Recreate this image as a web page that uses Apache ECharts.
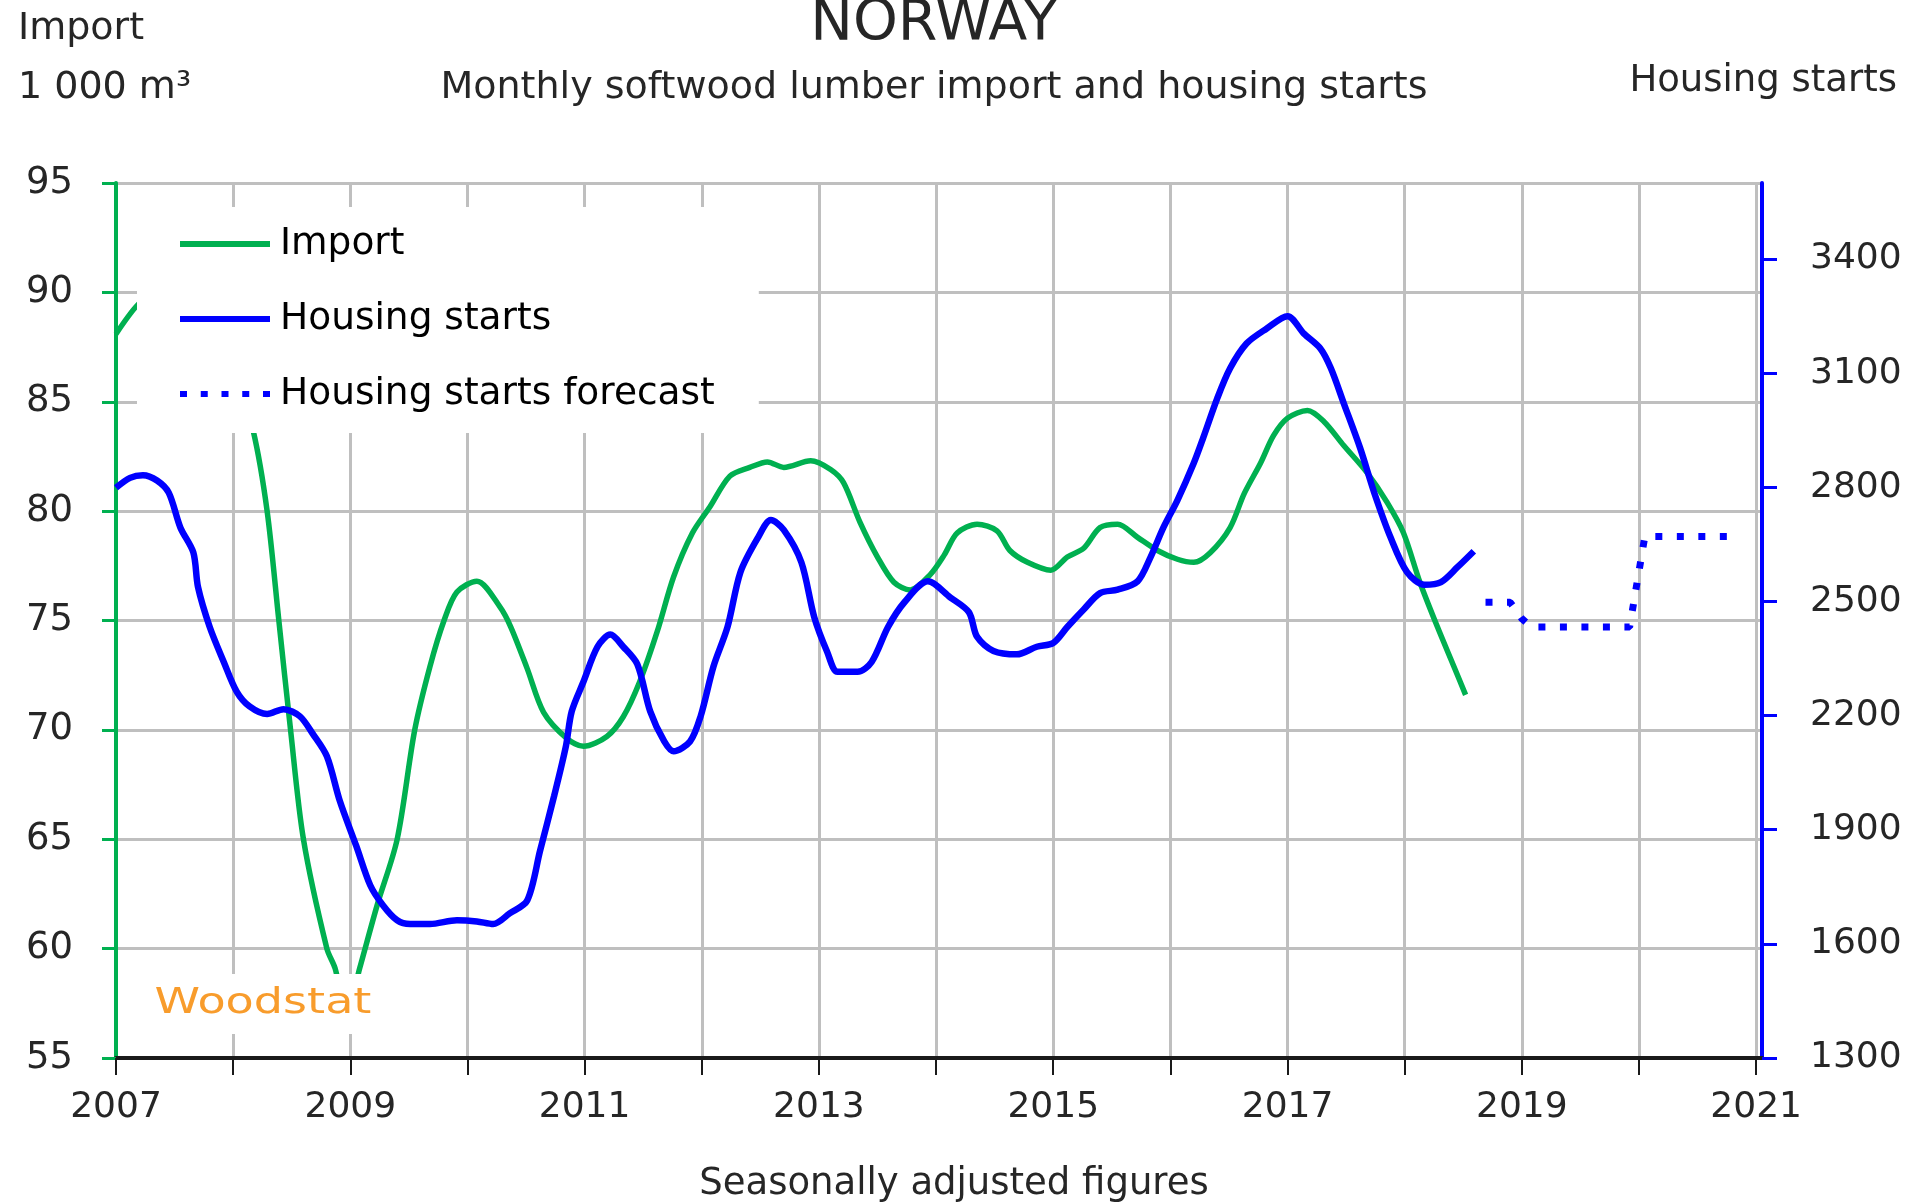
<!DOCTYPE html>
<html>
<head>
<meta charset="utf-8">
<title>Norway - softwood lumber import and housing starts</title>
<script src="https://cdn.jsdelivr.net/npm/echarts@6/dist/echarts.min.js"></script>
<style>
  html, body { margin: 0; padding: 0; background: #fff; }
  #chart { width: 1909px; height: 1202px; }
</style>
</head>
<body>
<div id="chart"></div>
<script>
// Import, 1 000 m3 (left axis)
const importYears = [
  2007.00, 2007.18, 2007.40, 2007.65, 2007.90, 2008.17, 2008.29, 2008.39, 2008.49, 2008.60,
  2008.80, 2008.87, 2008.97, 2009.08, 2009.23, 2009.40, 2009.55, 2009.68, 2009.80, 2009.91,
  2010.08, 2010.28, 2010.37, 2010.51, 2010.65, 2010.85, 2010.99, 2011.19, 2011.33, 2011.47,
  2011.62, 2011.76, 2011.92, 2012.07, 2012.24, 2012.41, 2012.56, 2012.70, 2012.93, 2013.10,
  2013.21, 2013.35, 2013.50, 2013.64, 2013.78, 2013.95, 2014.07, 2014.18, 2014.35, 2014.52,
  2014.63, 2014.78, 2014.98, 2015.12, 2015.26, 2015.40, 2015.55, 2015.72, 2015.89, 2016.06,
  2016.20, 2016.34, 2016.51, 2016.63, 2016.77, 2016.88, 2017.00, 2017.17, 2017.31, 2017.48,
  2017.68, 2017.85, 2017.99, 2018.13, 2018.28, 2018.42, 2018.52
];
const importValues = [
  88.1, 89.4, 90.4, 91.0, 89.0, 83.7, 80.0, 75.0, 70.0, 65.0,
  60.0, 59.1, 57.0, 59.1, 62.0, 65.0, 70.0, 72.9, 75.0, 76.3,
  76.8, 75.6, 74.7, 72.8, 70.8, 69.6, 69.25, 69.7, 70.6, 72.2,
  74.5, 77.0, 79.0, 80.2, 81.6, 82.0, 82.25, 82.0, 82.3, 81.9,
  81.3, 79.5, 77.9, 76.75, 76.4, 77.1, 78.0, 79.0, 79.4, 79.1,
  78.2, 77.66, 77.3, 77.9, 78.3, 79.25, 79.4, 78.8, 78.2, 77.8,
  77.66, 78.1, 79.25, 80.8, 82.2, 83.45, 84.25, 84.6, 84.1, 83.0,
  81.75, 80.4, 79.0, 76.75, 74.7, 72.9, 71.6
];

// Housing starts (right axis)
const startsYears = [
  2007.00, 2007.12, 2007.23, 2007.35, 2007.45, 2007.55, 2007.66, 2007.70, 2007.80, 2007.92,
  2008.03, 2008.14, 2008.29, 2008.43, 2008.57, 2008.68, 2008.80, 2008.91, 2009.05, 2009.17,
  2009.28, 2009.40, 2009.51, 2009.68, 2009.91, 2010.08, 2010.22, 2010.36, 2010.51, 2010.62,
  2010.74, 2010.84, 2010.89, 2010.99, 2011.11, 2011.22, 2011.33, 2011.45, 2011.56, 2011.68,
  2011.76, 2011.90, 2011.99, 2012.10, 2012.22, 2012.33, 2012.48, 2012.59, 2012.70, 2012.85,
  2012.96, 2013.07, 2013.16, 2013.33, 2013.45, 2013.59, 2013.73, 2013.93, 2014.12, 2014.28,
  2014.35, 2014.49, 2014.69, 2014.86, 2015.00, 2015.12, 2015.26, 2015.40, 2015.55, 2015.72,
  2015.83, 2015.94, 2016.06, 2016.20, 2016.28, 2016.40, 2016.51, 2016.65, 2016.82, 2017.00,
  2017.14, 2017.28, 2017.37, 2017.48, 2017.62, 2017.74, 2017.88, 2018.02, 2018.17, 2018.31,
  2018.45, 2018.59
];
const startsValues = [
  2799, 2825, 2832, 2818, 2786, 2694, 2629, 2538, 2433, 2341,
  2263, 2224, 2204, 2217, 2198, 2152, 2093, 1976, 1858, 1754,
  1701, 1662, 1652, 1652, 1662, 1659, 1652, 1680, 1714, 1845,
  1989, 2119, 2211, 2289, 2381, 2413, 2381, 2335, 2211, 2132,
  2106, 2132, 2198, 2329, 2433, 2577, 2668, 2714, 2688, 2603,
  2459, 2368, 2315, 2315, 2341, 2433, 2498, 2553, 2511, 2472,
  2407, 2370, 2361, 2381, 2391, 2433, 2479, 2522, 2531, 2553,
  2616, 2694, 2766, 2864, 2930, 3034, 3113, 3178, 3217, 3250,
  3204, 3165, 3113, 3021, 2903, 2786, 2668, 2577, 2544, 2551,
  2590, 2632
];

// Housing starts forecast
const forecastYears = [2018.69, 2018.90, 2019.00, 2019.08, 2019.92, 2020.05, 2020.85];
const forecastValues = [2498, 2498, 2455, 2433, 2433, 2671, 2671];

const yearTicks = [2007, 2008, 2009, 2010, 2011, 2012, 2013, 2014, 2015, 2016, 2017, 2018, 2019, 2020, 2021];
const yearLabels = [2007, 2009, 2011, 2013, 2015, 2017, 2019, 2021];
const startsTicks = [1300, 1600, 1900, 2200, 2500, 2800, 3100, 3400];

const FONT = 'DejaVu Sans';
const GREEN = '#00b050';
const BLUE = '#0000ff';
const GRID = '#bfbfbf';
const TEXT = '#262626';

// legend icons: a short bar and a row of square dots
const BAR_ICON = 'rect';
const DOT_ICON = 'path://M0,0h7v6h-7zM20.75,0h7v6h-7zM41.5,0h7v6h-7zM62.25,0h7v6h-7zM83,0h7v6h-7z';

const pairs = (xs, ys) => xs.map((x, i) => [x, ys[i]]);

const chart = echarts.init(document.getElementById('chart'));

const txt = (text, x, y, size, align) => ({
  type: 'text',
  x: x, y: y,
  z: 50,
  style: {
    text: text,
    font: size + 'px "' + FONT + '"',
    fill: TEXT,
    align: align, textAlign: align,
    verticalAlign: 'middle', textVerticalAlign: 'middle'
  }
});

const option = {
  animation: false,
  backgroundColor: '#fff',
  grid: { left: 116, right: 147, top: 183, bottom: 144, containLabel: false },
  legend: {
    orient: 'vertical',
    left: 137,
    top: 207,
    padding: [18, 44, 20, 43],
    itemWidth: 90,
    itemHeight: 6,
    itemGap: 37,
    backgroundColor: '#fff',
    z: 10,
    textStyle: { fontFamily: FONT, fontSize: 37.5, color: '#000', lineHeight: 37, padding: [0, 0, 0, 5] },
    data: [
      { name: 'Import', icon: BAR_ICON },
      { name: 'Housing starts', icon: BAR_ICON },
      { name: 'Housing starts forecast', icon: DOT_ICON }
    ]
  },
  xAxis: {
    type: 'value',
    min: 2007,
    max: 2021.05,
    interval: 1,
    axisLine: { onZero: false, lineStyle: { color: '#1a1a1a', width: 4 } },
    axisTick: { show: true, length: 17, customValues: yearTicks, lineStyle: { color: '#1a1a1a', width: 2 } },
    axisLabel: {
      customValues: yearLabels,
      margin: 32,
      fontFamily: FONT, fontSize: 36, color: TEXT,
      formatter: v => String(v)
    },
    splitLine: { show: true, lineStyle: { color: GRID, width: 3 } }
  },
  yAxis: [
    {
      type: 'value',
      min: 55, max: 95, interval: 5,
      axisLine: { show: true, lineStyle: { color: GREEN, width: 4 } },
      axisTick: { show: true, length: 14, lineStyle: { color: GREEN, width: 3 } },
      axisLabel: { margin: 43, fontFamily: FONT, fontSize: 37, color: TEXT },
      splitLine: { show: true, lineStyle: { color: GRID, width: 3 } }
    },
    {
      type: 'value',
      position: 'right',
      min: 1300, max: 3600, interval: 300,
      axisLine: { show: true, lineStyle: { color: BLUE, width: 4 } },
      axisTick: { show: true, length: 15, customValues: startsTicks, lineStyle: { color: BLUE, width: 3 } },
      axisLabel: {
        customValues: startsTicks,
        margin: 48,
        fontFamily: FONT, fontSize: 36, color: TEXT,
        formatter: v => String(v)
      },
      splitLine: { show: false }
    }
  ],
  series: [
    {
      name: 'Import',
      type: 'line',
      yAxisIndex: 0,
      data: pairs(importYears, importValues),
      symbol: 'none',
      smooth: 0.3,
      lineStyle: { color: GREEN, width: 5.5 },
      itemStyle: { color: GREEN }
    },
    {
      name: 'Housing starts',
      type: 'line',
      yAxisIndex: 1,
      data: pairs(startsYears, startsValues),
      symbol: 'none',
      smooth: 0.3,
      lineStyle: { color: BLUE, width: 6.5 },
      itemStyle: { color: BLUE }
    },
    {
      name: 'Housing starts forecast',
      type: 'line',
      yAxisIndex: 1,
      data: pairs(forecastYears, forecastValues),
      symbol: 'none',
      lineStyle: { color: BLUE, width: 7, type: [7, 14.5], cap: 'butt' },
      itemStyle: { color: BLUE }
    }
  ],
  graphic: [
    txt('NORWAY', 934, 25, 57, 'center'),
    txt('Monthly softwood lumber import and housing starts', 934, 88, 38, 'center'),
    txt('Import', 18, 29, 38, 'left'),
    txt('1 000 m³', 18, 88, 38, 'left'),
    txt('Housing starts', 1897, 81, 37, 'right'),
    txt('Seasonally adjusted figures', 954, 1184, 37, 'center'),
    {
      type: 'text',
      x: 263, y: 1004,
      scaleX: 1.28,
      z: 100,
      style: {
        text: 'Woodstat',
        font: '36px "' + FONT + '"',
        fill: '#f89c2c',
        align: 'center', textAlign: 'center',
        verticalAlign: 'middle', textVerticalAlign: 'middle',
        backgroundColor: '#fff',
        padding: [12, 8, 12, 8]
      }
    }
  ]
};

chart.setOption(option);
</script>
</body>
</html>
